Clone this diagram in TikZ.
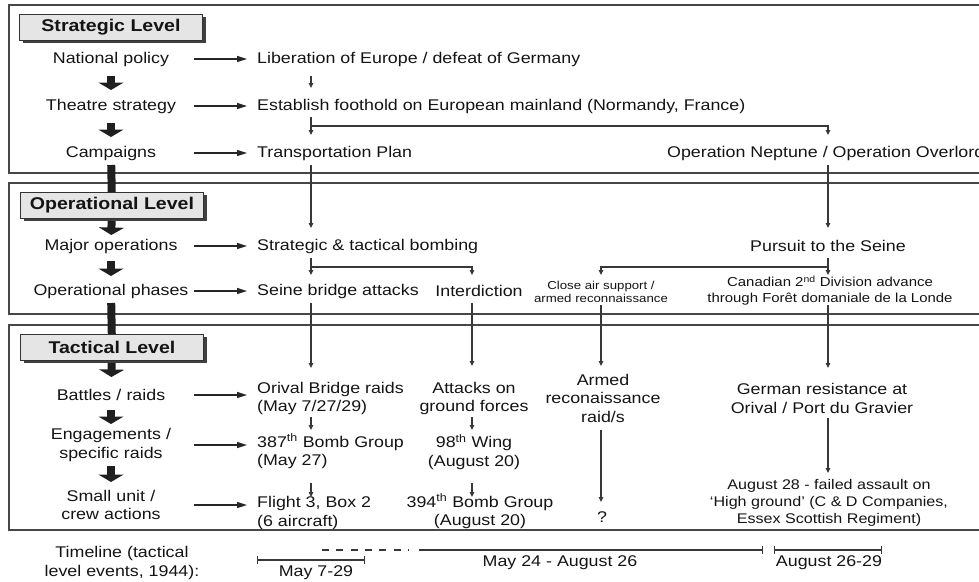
\documentclass[tikz,border=0pt]{standalone}
\usepackage{fontspec}
\setmainfont[FakeStretch=1.15]{Liberation Sans}
\usetikzlibrary{arrows.meta,shadows}
\def\bodysize{\fontsize{15.5}{18.5}\selectfont}
\def\midsize{\fontsize{14}{17}\selectfont}
\def\smallsize{\fontsize{13}{15.5}\selectfont}
\def\tinysize{\fontsize{11.5}{13}\selectfont}
\def\headsize{\fontsize{17}{20}\selectfont\bfseries}
\tikzset{
  txt/.style={inner sep=0pt, text=black!92, font=\bodysize, align=center},
  lefttxt/.style={txt, anchor=west, align=left},
  leftcol/.style={txt, text width=160pt},
  lvl/.style={draw=black!80, fill=black!10, line width=1pt, minimum width=183pt, minimum height=26pt,
    inner sep=0pt, text=black!92, font=\headsize,
    drop shadow={shadow xshift=3pt, shadow yshift=-3pt, fill=black!75, opacity=1}},
  panel/.style={draw=black!72, line width=1.5pt},
  bigarr/.style={draw=black!88, line width=8pt, -{Triangle[width=25pt,length=7.5pt]}},
  levelbar/.style={draw=black!88, line width=8pt},
  harr/.style={draw=black!85, line width=1.5pt, -{Triangle[width=6pt,length=10pt]}},
  arr/.style={draw=black!78, line width=1.1pt, -{Triangle[width=4.5pt,length=5pt]}},
  span/.style={draw=black!78, line width=1.2pt},
}

\begin{document}
\begin{tikzpicture}[x=1pt,y=-1pt]
\useasboundingbox (0,0) rectangle (979,581);
\clip (0,0) rectangle (979,581);

\draw[panel] (9,5) rectangle (995,173);
\draw[panel] (9,183) rectangle (995,314);
\draw[panel] (9,325) rectangle (995,530);

\coordinate (c1) at (311,0);
\coordinate (c2) at (472,0);
\coordinate (c3) at (601,0);
\coordinate (c4) at (828,0);
\coordinate (split1) at (311,126);
\coordinate (split2) at (311,267);
\coordinate (split3) at (828,267);

\node[lvl] (strathdr) at (111,27) {Strategic Level};
\node[lvl] (ophdr) at (112,205) {Operational Level};
\node[lvl] (tachdr) at (112,347) {Tactical Level};

\node[leftcol] (natpol) at (111,59) {National policy};
\node[leftcol] (theatre) at (111,106) {Theatre strategy};
\node[leftcol] (campaigns) at (111,153) {Campaigns};
\node[leftcol] (majorops) at (111,246) {Major operations};
\node[leftcol] (opphases) at (111,291) {Operational phases};
\node[leftcol] (battles) at (111,395) {Battles / raids};
\node[leftcol] (engage) at (111,445) {Engagements /\\specific raids};
\node[leftcol] (smallunit) at (111,505) {Small unit /\\crew actions};
\node[txt] (timeline) at (122,563) {Timeline (tactical\\level events, 1944):};

\node[lefttxt] (lib) at (257,59) {Liberation of Europe / defeat of Germany};
\node[lefttxt] (est) at (257,106) {Establish foothold on European mainland (Normandy, France)};
\node[lefttxt] (transport) at (257,153) {Transportation Plan};
\node[lefttxt] (neptune) at (667,153) {Operation Neptune / Operation Overlord};
\node[lefttxt] (bombing) at (257,246) {Strategic \& tactical bombing};
\node[txt] (pursuit) at (828,246) {Pursuit to the Seine};
\node[lefttxt] (seine) at (257,291) {Seine bridge attacks};
\node[txt] (interd) at (479,291) {Interdiction};
\node[txt, font=\tinysize] (closeair) at (601,291.5) {Close air support /\\armed reconnaissance};
\node[txt, font=\smallsize] (canadian) at (830,290.5) {Canadian 2\textsuperscript{nd} Division advance\\through Forêt domaniale de la Londe};
\node[lefttxt] (orival) at (257,398.5) {Orival Bridge raids\\(May 7/27/29)};
\node[txt] (attacks) at (474,398.5) {Attacks on\\ground forces};
\node[txt] (armed) at (603,398) {Armed\\reconaissance\\raid/s};
\node[txt] (german) at (822,398.5) {German resistance at\\Orival / Port du Gravier};
\node[lefttxt] (bg387) at (257,451.5) {387\textsuperscript{th} Bomb Group\\(May 27)};
\node[txt] (wing98) at (474,452) {98\textsuperscript{th} Wing\\(August 20)};
\node[lefttxt] (flight) at (257,513) {Flight 3, Box 2\\(6 aircraft)};
\node[txt] (bg394) at (480,511.5) {394\textsuperscript{th} Bomb Group\\(August 20)};
\node[txt] (qmark) at (602,517) {?};
\node[txt, font=\midsize] (aug28) at (829,503) {August 28 - failed assault on\\‘High ground’ (C \& D Companies,\\Essex Scottish Regiment)};

\node[txt] (may729) at (316,573) {May 7-29};
\node[txt] (may24) at (560,563) {May 24 - August 26};
\node[txt] (aug2629) at (829,563) {August 26-29};

\draw[levelbar, shorten <=12pt, shorten >=13pt] (campaigns.center) -- (ophdr.center);
\draw[levelbar, shorten <=12pt, shorten >=13pt] (opphases.center) -- (tachdr.center);

\draw[bigarr, shorten <=17pt, shorten >=16pt] (natpol.center) -- (theatre.center);
\draw[bigarr, shorten <=17pt, shorten >=16pt] (theatre.center) -- (campaigns.center);
\draw[bigarr, shorten <=16pt, shorten >=11pt] (ophdr.center) -- (majorops.center);
\draw[bigarr, shorten <=15pt, shorten >=15pt] (majorops.center) -- (opphases.center);
\draw[bigarr, shorten <=16pt, shorten >=18pt] (tachdr.center) -- (battles.center);
\draw[bigarr, shorten <=15pt, shorten >=21pt] (battles.center) -- (engage.center);
\draw[bigarr, shorten <=21pt, shorten >=23pt] (engage.center) -- (smallunit.center);

\draw[harr, shorten <=3pt, shorten >=10pt] (natpol.east) -- (natpol -| lib.west);
\draw[harr, shorten <=3pt, shorten >=10pt] (theatre.east) -- (theatre -| est.west);
\draw[harr, shorten <=3pt, shorten >=10pt] (campaigns.east) -- (campaigns -| transport.west);
\draw[harr, shorten <=3pt, shorten >=10pt] (majorops.east) -- (majorops -| bombing.west);
\draw[harr, shorten <=3pt, shorten >=10pt] (opphases.east) -- (opphases -| seine.west);
\draw[harr, shorten <=3pt, shorten >=10pt] (battles.east) -- (battles -| orival.west);
\draw[harr, shorten <=3pt, shorten >=10pt] (engage.east) -- (engage -| bg387.west);
\draw[harr, shorten <=3pt, shorten >=10pt] (smallunit.east) -- (smallunit -| flight.west);

\draw[arr, shorten <=17pt, shorten >=18pt] (c1 |- lib) -- (c1 |- est);
\draw[arr, shorten <=11pt, shorten >=18pt] (c1 |- est) -- (c1 |- transport);
\draw[arr, shorten >=18pt] (split1) -| (c4 |- neptune);
\draw[arr, shorten <=12pt, shorten >=18pt] (c1 |- transport) -- (c1 |- bombing);
\draw[arr, shorten <=12pt, shorten >=18pt] (c4 |- neptune) -- (c4 |- pursuit);
\draw[arr, shorten <=12pt, shorten >=16pt] (c1 |- bombing) -- (c1 |- seine);
\draw[arr, shorten >=16pt] (split2) -| (c2 |- interd);
\draw[arr, shorten <=12pt, shorten >=15.5pt] (c4 |- pursuit) -- (c4 |- canadian);
\draw[arr, shorten >=16.5pt] (split3) -| (c3 |- closeair);
\draw[arr, shorten <=12pt, shorten >=30.5pt] (c1 |- seine) -- (c1 |- orival);
\draw[arr, shorten <=12pt, shorten >=32.5pt] (c2 |- interd) -- (c2 |- attacks);
\draw[arr, shorten <=13.5pt, shorten >=32pt] (c3 |- closeair) -- (c3 |- armed);
\draw[arr, shorten <=14.5pt, shorten >=30.5pt] (c4 |- canadian) -- (c4 |- german);
\draw[arr, shorten <=18.5pt, shorten >=21.5pt] (c1 |- orival) -- (c1 |- bg387);
\draw[arr, shorten <=31.5pt, shorten >=16pt] (c1 |- bg387) -- (c1 |- flight);
\draw[arr, shorten <=18.5pt, shorten >=22pt] (c2 |- attacks) -- (c2 |- wing98);
\draw[arr, shorten <=31pt, shorten >=14.5pt] (c2 |- wing98) -- (c2 |- bg394);
\draw[arr, shorten <=32pt, shorten >=15pt] (c3 |- armed) -- (c3 |- qmark);
\draw[arr, shorten <=19.5pt, shorten >=30pt] (c4 |- german) -- (c4 |- aug28);

\draw[span, {Bar[width=8pt]}-{Bar[width=8pt]}] (257,560) -- (365,560);
\draw[span, dash pattern=on 7pt off 7.3pt] (322,550) -- (408,550);
\draw[span, -{Bar[width=8pt]}] (419,550) -- (763,550);
\draw[span, {Bar[width=8pt]}-{Bar[width=8pt]}] (774,550) -- (882,550);
\end{tikzpicture}
\end{document}
